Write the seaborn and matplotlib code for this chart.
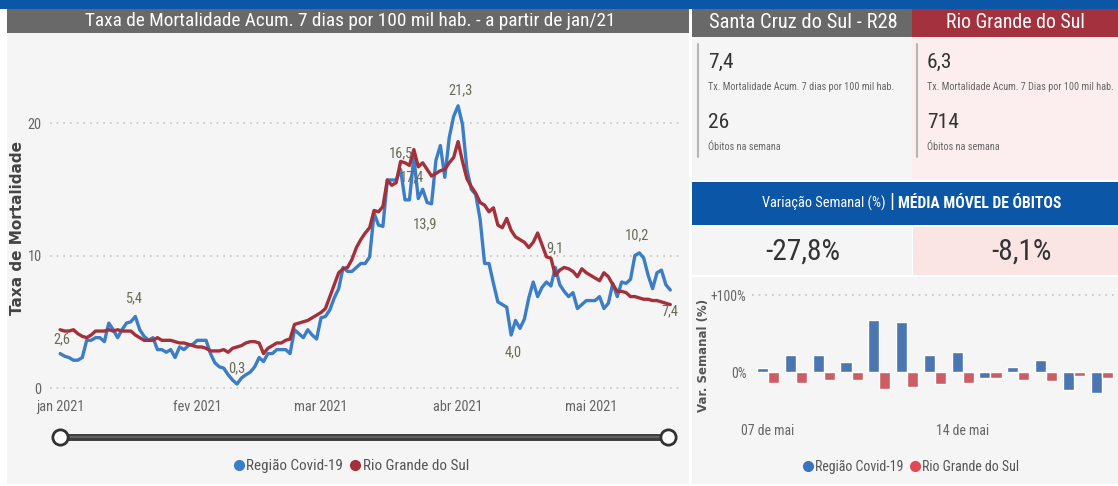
import matplotlib
matplotlib.use("Agg")
import matplotlib.pyplot as plt
import seaborn as sns
import pandas as pd
from matplotlib import font_manager
from matplotlib.patches import Rectangle
from matplotlib.lines import Line2D

W, H = 1118, 486

# ---- data ----
start_date = "2021-01-01"
regiao_taxa = [
    2.6, 2.4, 2.3, 2.1, 2.1, 2.3, 3.6, 3.6, 3.8, 3.8,
    3.5, 4.9, 4.4, 3.8, 4.4, 4.9, 5.0, 5.4, 4.4, 3.9,
    3.6, 3.8, 2.9, 2.9, 2.7, 2.9, 2.3, 3.1, 2.9, 3.2,
    3.3, 3.6, 3.6, 3.6, 2.6, 1.9, 1.6, 1.5, 1.0, 0.6,
    0.3, 0.75, 1.0, 1.2, 1.6, 2.3, 2.0, 2.6, 2.6, 2.9,
    2.9, 2.9, 2.6, 4.4, 4.1, 3.8, 4.4, 4.0, 3.7, 5.3,
    5.4, 5.9, 6.8, 7.5, 9.1, 8.8, 8.8, 9.1, 9.4, 9.4, 9.9,
    13.2, 12.3, 12.2, 15.7, 15.7, 15.7, 16.5, 14.2, 14.2, 17.4,
    14.3, 15.0, 14.0, 13.9, 17.2, 18.3, 15.9, 18.9, 20.5, 21.3,
    19.9, 16.5, 15.0, 14.6, 12.7, 9.4, 9.4, 7.9, 6.5, 6.3,
    6.1, 4.0, 5.1, 4.5, 5.2, 6.8, 8.0,
    6.9, 7.6, 8.0, 7.7, 9.1, 7.8, 7.3, 6.9, 7.2, 6.0,
    6.3, 6.6, 6.6, 6.6, 6.9, 6.0, 6.4, 7.9, 6.9, 8.0,
    7.9, 8.2, 10.0, 10.2, 9.8, 8.5, 7.5, 8.7, 8.9, 7.8, 7.4,
]
rs_taxa = [
    4.4, 4.3, 4.3, 4.4, 4.1, 3.9, 3.8, 4.0, 4.3, 4.3,
    4.3, 4.4, 4.3, 4.4, 4.3, 4.3, 4.3, 4.0, 3.8, 3.6,
    3.6, 3.6, 3.8, 3.6, 3.6, 3.6, 3.5, 3.4, 3.4, 3.3,
    3.2, 3.1, 3.1, 3.0, 2.8, 2.8, 2.8, 2.9, 2.7, 3.0,
    3.1, 3.2, 3.4, 3.5, 3.5, 3.4, 2.6, 3.0, 3.2, 3.4,
    3.4, 3.6, 3.7, 4.8, 4.9, 5.0, 5.1, 5.3, 5.5, 5.7,
    6.0, 6.9, 7.8, 8.7, 9.0, 9.1, 9.7, 10.6, 11.2, 11.7,
    12.1, 13.4, 13.3, 13.7, 15.7, 15.3, 15.5, 17.1, 17.0, 16.8,
    18.0, 16.7, 17.0, 16.5, 16.0, 16.2, 16.4, 16.5, 17.0, 17.4,
    18.6, 17.1, 15.8, 15.2, 14.7, 14.0, 13.8, 13.3, 13.6, 12.3,
    12.1, 12.8, 11.9, 11.4, 11.2, 11.0, 10.6, 11.0, 11.7, 10.8,
    9.9, 9.8, 8.5, 8.9, 9.1, 9.0, 8.8, 8.4, 9.0, 8.7,
    8.5, 8.3, 8.1, 8.7, 8.4, 7.8, 7.3, 7.3, 7.2, 6.9,
    6.9, 6.8, 6.7, 6.7, 6.6, 6.6, 6.5, 6.4, 6.3,
]
series_names = ["Região Covid-19", "Rio Grande do Sul"]
month_ticks = ["2021-01-01", "2021-02-01", "2021-03-01", "2021-04-01", "2021-05-01"]
month_labels = ["jan 2021", "fev 2021", "mar 2021", "abr 2021", "mai 2021"]
y_ticks = [0, 10, 20]

# labelled points of the Região series (day index)
label_days = [0, 17, 40, 77, 80, 84, 90, 102, 112, 131, 138]
label_offsets = [(1.5, 10), (-1.5, 13), (0, 11.5), (0, 11.5), (-1.5, -14), (-4.5, -14.5),
                 (1.5, 11.5), (1.5, -12.5), (0, 14), (-1.5, 13), (0, -15)]

bar_days = ["07/05", "08/05", "09/05", "10/05", "11/05", "12/05", "13/05",
            "14/05", "15/05", "16/05", "17/05", "18/05", "19/05"]
var_regiao = [5, 22, 22, 13, 68, 65, 22, 26, -8, 7, 16, -23, -27.8]
var_rs = [-14, -14, -11, -10, -22, -19, -16, -14, -8, -10, -12, -5, -8.1]
bar_tick_pos = [0, 7]
bar_tick_labels = ["07 de mai", "14 de mai"]
bar_y_ticks = [0, 100]
bar_y_labels = ["0%", "+100%"]

kpi_regiao = ["7,4", "26", "-27,8%"]
kpi_rs = ["6,3", "714", "-8,1%"]

# ---- styling ----
BLUE_LINE = "#3B7DC6"
RED_LINE = "#A3303B"
BLUE_BAR = "#3A74C0"
RED_BAR = "#E04A55"
HEADER_BLUE = "#0B56A6"
GRAY_BAR = "#696969"
RED_HEAD = "#A3323E"
BG = "#F5F5F5"
PINK = "#FCEEEE"
PINK2 = "#FAE4E4"
WIDEN = 1.15  # reference text is narrower than any installed font, trade a bit of width for height

installed = {f.name for f in font_manager.fontManager.ttflist}
narrow = next(f for f in ["Roboto Condensed", "Liberation Sans Narrow", "Lato", "DejaVu Sans"]
              if f in installed)

sns.set_theme(style="white")
plt.rcParams["font.family"] = [narrow, "DejaVu Sans"]

fig = plt.figure(figsize=(W / 100, H / 100), dpi=100)
fig.patch.set_facecolor("white")
renderer = fig.canvas.get_renderer()


def fx(x):
    return x / W


def fy(y):
    return 1 - y / H


def rect(x0, y0, x1, y1, color):
    fig.add_artist(Rectangle((fx(x0), fy(y1)), (x1 - x0) / W, (y1 - y0) / H,
                             transform=fig.transFigure, facecolor=color,
                             edgecolor="none", zorder=-5))


def size_for(s, width_px, **kw):
    # font size that makes s about width_px wide in the chosen font
    t = fig.text(0, 0, s, fontsize=10, **kw)
    w = t.get_window_extent(renderer).width
    t.remove()
    return 10 * width_px * WIDEN / w


def ftext(x, y, s, width=None, **kw):
    if width is not None:
        kw["fontsize"] = size_for(s, width, **{k: v for k, v in kw.items()
                                                if k in ("fontweight", "family")})
    return fig.text(fx(x), fy(y), s, **kw)


tick_size = size_for("jan 2021", 42)
label_size = size_for("21,3", 21)
legend_size = size_for("Região Covid-19", 84)
bar_legend_size = size_for("Região Covid-19", 77)
bar_tick_size = size_for("07 de mai", 46)

# backgrounds
rect(0, 0, W, 9, HEADER_BLUE)
rect(7, 9, 689, 33, GRAY_BAR)
rect(7, 33, 689, 484, BG)
rect(692, 9, 912, 37, GRAY_BAR)
rect(912, 9, W, 37, RED_HEAD)
rect(692, 37, 912, 180, BG)
rect(912, 37, W, 180, PINK)
rect(692, 182, W, 225, HEADER_BLUE)
rect(692, 227, 912, 275, BG)
rect(913, 227, W, 275, PINK2)
rect(692, 277, W, 484, BG)

ftext(350, 21, "Taxa de Mortalidade Acum. 7 dias por 100 mil hab. - a partir de jan/21",
      width=460, color="white", ha="center", va="center")
ftext(803, 23, "Santa Cruz do Sul - R28", width=163, color="white", ha="center", va="center")
ftext(1015, 23, "Rio Grande do Sul", width=121, color="white", ha="center", va="center")

# KPI cards
sub_size = size_for("Tx. Mortalidade Acum. 7 dias por 100 mil hab.", 160)
big_size = size_for("714", 23) * 1.2
for x0, vals, sub in [(708, kpi_regiao, "Tx. Mortalidade Acum. 7 dias por 100 mil hab."),
                      (927, kpi_rs, "Tx. Mortalidade Acum. 7 Dias por 100 mil hab.")]:
    fig.add_artist(Line2D([fx(x0 - 10)] * 2, [fy(44), fy(157)], transform=fig.transFigure,
                          color="#B5B5B5", lw=1.5))
    ftext(x0, 62, vals[0], fontsize=big_size, color="#333333", va="center")
    ftext(x0, 87, sub, fontsize=sub_size, color="#666666", va="center")
    ftext(x0, 123, vals[1], fontsize=big_size, color="#333333", va="center")
    ftext(x0, 147, "Óbitos na semana", fontsize=sub_size, color="#666666", va="center")

ftext(886, 203, "Variação Semanal (%)", width=108, color="white", ha="right", va="center")
ftext(892, 203, "|", fontsize=15, color="white", ha="center", va="center")
ftext(898, 203, "MÉDIA MÓVEL DE ÓBITOS", width=142, color="white", ha="left", va="center",
      fontweight="bold")
pct_size = size_for("-27,8%", 62) * 1.05
ftext(803, 252, kpi_regiao[2], fontsize=pct_size, color="#333333", ha="center", va="center")
ftext(1021, 252, kpi_rs[2], fontsize=pct_size, color="#333333", ha="center", va="center")

# ---- main line chart ----
dates = pd.date_range(start_date, periods=len(regiao_taxa), freq="D")
df = pd.DataFrame({
    "data": list(dates) + list(dates),
    "taxa": regiao_taxa + rs_taxa,
    "serie": [series_names[0]] * len(regiao_taxa) + [series_names[1]] * len(rs_taxa),
})

ax = fig.add_axes([fx(50), fy(392), (680 - 50) / W, (392 - 96) / H])
ax.set_facecolor("none")
sns.lineplot(data=df, x="data", y="taxa", hue="serie",
             palette={series_names[0]: BLUE_LINE, series_names[1]: RED_LINE},
             linewidth=2.4, legend=False, ax=ax)
t0 = pd.Timestamp(start_date)
ax.set_xlim(t0 - pd.Timedelta(days=2.3), t0 + pd.Timedelta(days=140.2))
ax.set_ylim(-0.3, 22.04)
ax.set_yticks(y_ticks)
ax.set_yticklabels([str(t) for t in y_ticks])
ax.set_xticks(pd.to_datetime(month_ticks))
ax.set_xticklabels(month_labels)
ax.tick_params(length=0, labelsize=tick_size, labelcolor="#666666", pad=6)
ax.yaxis.grid(True, linestyle=(0, (1, 3)), color="#C4C4C4", linewidth=1.2)
ax.xaxis.grid(False)
for s in ax.spines.values():
    s.set_visible(False)
ax.set_xlabel("")
ax.set_ylabel("")
ftext(18, 228, "Taxa de Mortalidade", rotation=90, fontsize=11, color="#444444",
      ha="center", va="center", family="DejaVu Sans", fontweight="bold")

for d, off in zip(label_days, label_offsets):
    v = regiao_taxa[d]
    ax.annotate(f"{v:.1f}".replace(".", ","), xy=(dates[d], v), xytext=off,
                textcoords="offset points", ha="center", va="center",
                fontsize=label_size, color="#6A6A5A", zorder=5)

# range slider
fig.add_artist(Line2D([fx(60), fx(668)], [fy(437), fy(437)], transform=fig.transFigure,
                      color="#3E3E3E", lw=5, solid_capstyle="butt"))
fig.add_artist(Line2D([fx(60), fx(668)], [fy(437), fy(437)], transform=fig.transFigure,
                      color="#6A6A6A", lw=1.2, solid_capstyle="butt"))
for x in (60, 668):
    fig.add_artist(Line2D([fx(x)], [fy(437)], transform=fig.transFigure, marker="o",
                          markersize=11, markerfacecolor="white",
                          markeredgecolor="#333333", markeredgewidth=2))

handles = [Line2D([], [], marker="o", ls="none", color=BLUE_LINE, markersize=7),
           Line2D([], [], marker="o", ls="none", color=RED_LINE, markersize=7)]
fig.legend(handles, series_names, loc="center", bbox_to_anchor=(fx(350), fy(466)),
           ncol=2, frameon=False, fontsize=legend_size, labelcolor="#555555",
           handletextpad=0.0, columnspacing=0.3, handlelength=1.0)

# ---- weekly variation bar chart ----
bar_df = pd.DataFrame({
    "dia": bar_days * 2,
    "var": var_regiao + var_rs,
    "serie": [series_names[0]] * len(bar_days) + [series_names[1]] * len(bar_days),
})
bx = fig.add_axes([fx(752), fy(418), (1115 - 752) / W, (418 - 290) / H])
bx.set_facecolor("none")
sns.barplot(data=bar_df, x="dia", y="var", hue="serie",
            palette={series_names[0]: BLUE_BAR, series_names[1]: RED_BAR},
            width=0.8, legend=False, ax=bx)
bx.set_xlim(-0.58, 12.48)
bx.set_ylim(-59.7, 106.5)
bx.set_yticks(bar_y_ticks)
bx.set_yticklabels(bar_y_labels)
bx.set_xticks(bar_tick_pos)
bx.set_xticklabels(bar_tick_labels)
bx.axhline(bar_y_ticks[1], xmin=0.0, linestyle=(0, (1, 3)), color="#C4C4C4",
           linewidth=1.2, zorder=0)
bx.tick_params(length=0, labelsize=bar_tick_size, labelcolor="#666666", pad=4)
for s in bx.spines.values():
    s.set_visible(False)
bx.set_xlabel("")
bx.set_ylabel("")
ftext(703, 355, "Var. Semanal (%)", rotation=90, fontsize=8.5, color="#555555",
      ha="center", va="center", family="DejaVu Sans", fontweight="bold")

fig.legend(handles=[Line2D([], [], marker="o", ls="none", color=BLUE_BAR, markersize=7),
                    Line2D([], [], marker="o", ls="none", color=RED_BAR, markersize=7)],
           labels=series_names, loc="center", bbox_to_anchor=(fx(910), fy(467)),
           ncol=2, frameon=False, fontsize=bar_legend_size, labelcolor="#555555",
           handletextpad=0.0, columnspacing=0.3, handlelength=1.0)

fig.savefig("out.png", dpi=100)
